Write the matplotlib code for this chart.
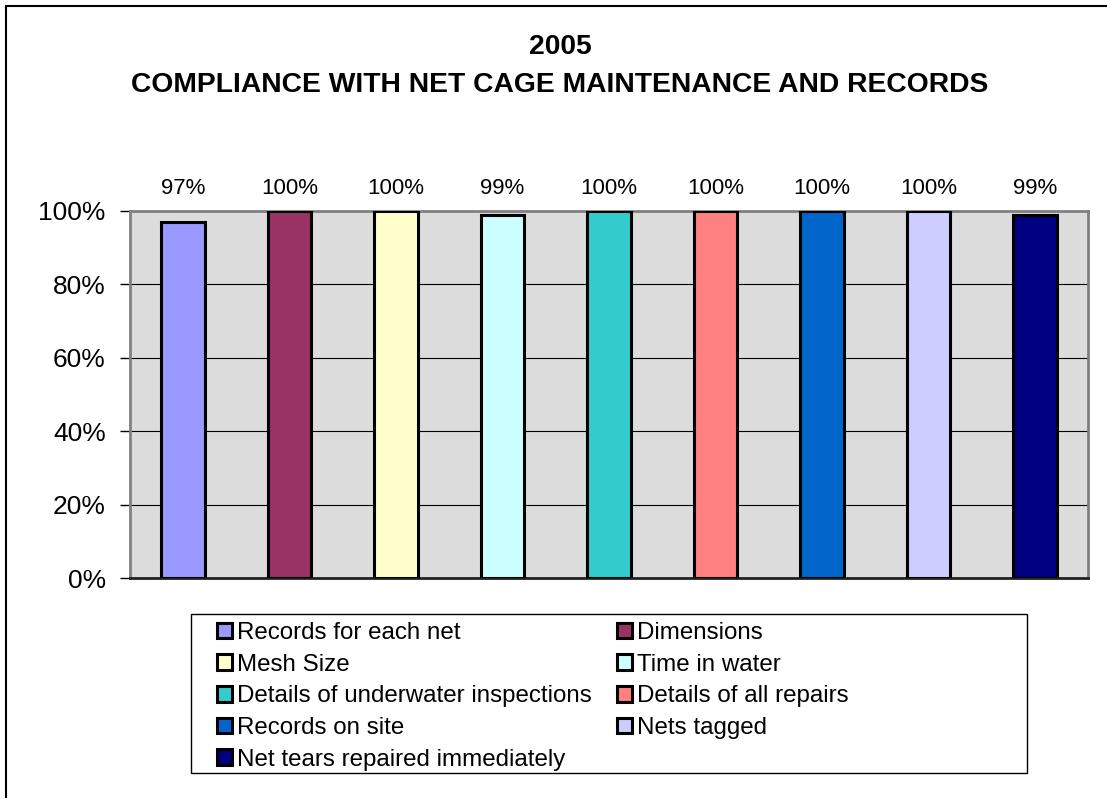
import numpy as np
import matplotlib.pyplot as plt
from matplotlib.patches import Rectangle

plt.rcParams['font.family'] = ['Liberation Sans', 'DejaVu Sans']

categories = ['Records for each net', 'Dimensions', 'Mesh Size', 'Time in water',
              'Details of underwater inspections', 'Details of all repairs',
              'Records on site', 'Nets tagged', 'Net tears repaired immediately']
values = [0.97, 1.00, 1.00, 0.99, 1.00, 1.00, 1.00, 1.00, 0.99]
labels = ['97%', '100%', '100%', '99%', '100%', '100%', '100%', '100%', '99%']
colors = ['#9999ff', '#993366', '#ffffcc', '#ccffff', '#33cccc',
          '#ff8080', '#0066cc', '#ccccff', '#000080']

W, H = 1107, 798
fig = plt.figure(figsize=(W / 100, H / 100), dpi=100)
ax = fig.add_axes([130 / W, 1 - 578 / H, (1088 - 130) / W, (578 - 211) / H])
ax.set_facecolor('#dcdcdc')

x = np.arange(len(categories))
bars = ax.bar(x, values, width=0.41, color=colors, edgecolor='black',
              linewidth=2.2, zorder=3)
for xi, lab in zip(x, labels):
    ax.annotate(lab, (xi, 1.0), xytext=(0, 9), textcoords='offset points',
                ha='center', va='bottom', fontsize=16)

ax.set_xlim(-0.5, len(categories) - 0.5)
ax.set_ylim(0, 1.0)
ax.set_yticks(np.arange(0, 1.01, 0.2))
ax.set_yticklabels(['0%', '20%', '40%', '60%', '80%', '100%'], fontsize=19)
ax.set_xticks([])
ax.yaxis.grid(True, color='black', linewidth=0.8, zorder=1)
ax.tick_params(axis='y', length=7.5, width=1, color='black', pad=10)
for s in ['top', 'right', 'left']:
    ax.spines[s].set_color('#808080')
    ax.spines[s].set_linewidth(2)
ax.spines['bottom'].set_color('#222222')
ax.spines['bottom'].set_linewidth(2)

fig.text(0.506, 1 - 47 / H, '2005', ha='center', va='center', fontsize=20.3, fontweight='bold')
fig.text(0.506, 1 - 85 / H, 'COMPLIANCE WITH NET CAGE MAINTENANCE AND RECORDS',
         ha='center', va='center', fontsize=20.3, fontweight='bold')

# legend is filled column by column, so reorder to read row by row like the original
order = [0, 2, 4, 6, 8, 1, 3, 5, 7]
leg = fig.legend(handles=[bars[i] for i in order], labels=[categories[i] for i in order],
                 ncol=2, loc='upper left', bbox_to_anchor=(217 / W, 1 - 622 / H),
                 fontsize=17.4, frameon=False, handlelength=0.62, handleheight=0.62,
                 handletextpad=0.2, labelspacing=0.40, columnspacing=1.05,
                 borderpad=0, borderaxespad=0)
fig.patches.append(Rectangle((191 / W, 1 - 773 / H), (1027 - 191) / W, (773 - 614) / H,
                             transform=fig.transFigure, fill=False,
                             edgecolor='black', linewidth=1))

fig.patches.append(Rectangle((6 / W, -0.1), 1.2, 1 - 6 / H + 0.1,
                             transform=fig.transFigure, fill=False,
                             edgecolor='black', linewidth=1.5))

fig.savefig('out.png', dpi=100)
